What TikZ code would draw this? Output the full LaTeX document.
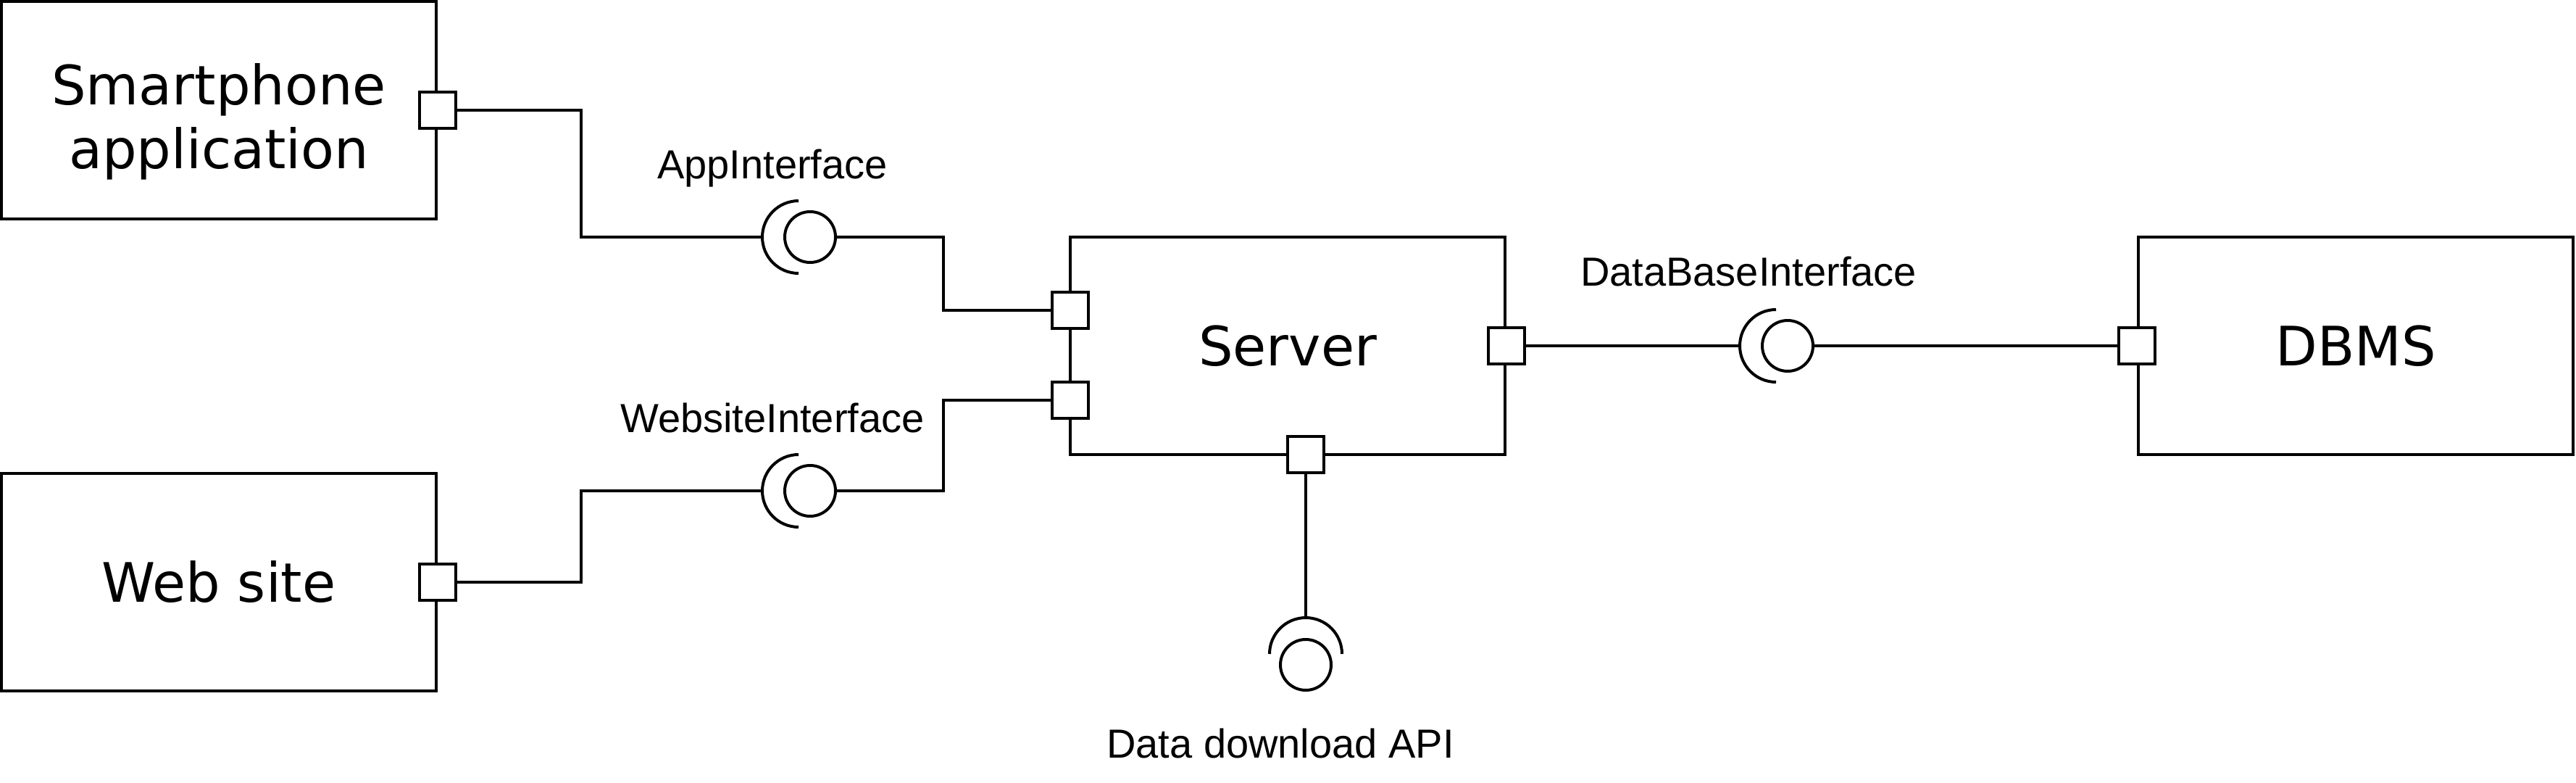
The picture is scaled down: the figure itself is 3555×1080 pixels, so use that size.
\documentclass[tikz,border=0pt]{standalone}
\usepackage{fontspec}
\setmainfont{DejaVu Sans}
\newfontfamily\labelfont{Liberation Sans}

\begin{document}
\begin{tikzpicture}[
            x=0.5pt, y=-0.5pt,
            line width=2pt,
            comp/.style={draw, rectangle, minimum width=300pt, minimum height=150pt,
                inner sep=0pt, align=center, text height=27pt, text depth=0pt,
                font=\fontsize{37.5}{44}\selectfont},
            port/.style={draw, fill=white, rectangle, minimum size=25pt, inner sep=0pt},
            ball/.style={draw, circle, minimum size=35pt, inner sep=0pt},
            iflabel/.style={anchor=base, inner sep=0pt, font=\labelfont\fontsize{28}{34}\selectfont},
            ]
            \useasboundingbox (0,0) rectangle (3555,1080);

            % components
            \node[comp, text height=81pt] (phone) at (302,152) {Smartphone\\application};
            \node[comp] (web) at (302,803) {Web site};
            \node[comp] (server) at (1777,477) {Server};
            \node[comp] (dbms) at (3251,477) {DBMS};

            % provided interfaces (balls) and sockets
            \node[ball] (appball) at (1118,327) {};
            \node[ball] (webball) at (1118,677) {};
            \node[ball] (dbball) at (2467,477) {};
            \node[ball] (apiball) at (1802,917) {};
            \coordinate (appsock) at (1052,327);
            \coordinate (websock) at (1052,677);
            \coordinate (dbsock) at (2401,477);
            \coordinate (apisock) at (1802,852);
            \draw (appball.center) ++(-16,-50) arc[start angle=90, end angle=270, radius=25pt];
            \draw (webball.center) ++(-16,-50) arc[start angle=90, end angle=270, radius=25pt];
            \draw (dbball.center) ++(-16,-50) arc[start angle=90, end angle=270, radius=25pt];
            \draw (apiball.center) ++(50,-15) arc[start angle=0, end angle=180, radius=25pt];

            % ports
            \node[port] (phoneport) at (phone.east) {};
            \node[port] (webport) at (web.east) {};
            \node[port] (srvapp) at (1477,428) {};
            \node[port] (srvweb) at (1477,552) {};
            \node[port] (srvdb) at (server.east) {};
            \node[port] (srvapi) at (1802,627) {};
            \node[port] (dbport) at (dbms.west) {};

            % connectors
            \draw (phoneport.east) -| (802,327) -- (appsock);
            \draw (appball.east) -| (1302,428) -- (srvapp.west);
            \draw (webport.east) -| (802,677) -- (websock);
            \draw (webball.east) -| (1302,552) -- (srvweb.west);
            \draw (srvdb.east) -- (dbsock);
            \draw (dbball.east) -- (dbport.west);
            \draw (srvapi.south) -- (apisock);

            % interface names
            \node[iflabel] (applbl) at (1066,247) {AppInterface};
            \node[iflabel] (weblbl) at (1066,596) {WebsiteInterface};
            \node[iflabel] (dblbl) at (2413,395) {DataBaseInterface};
            \node[iflabel] (apilbl) at (1767,1045) {Data download API};
        \end{tikzpicture}
\end{document}
